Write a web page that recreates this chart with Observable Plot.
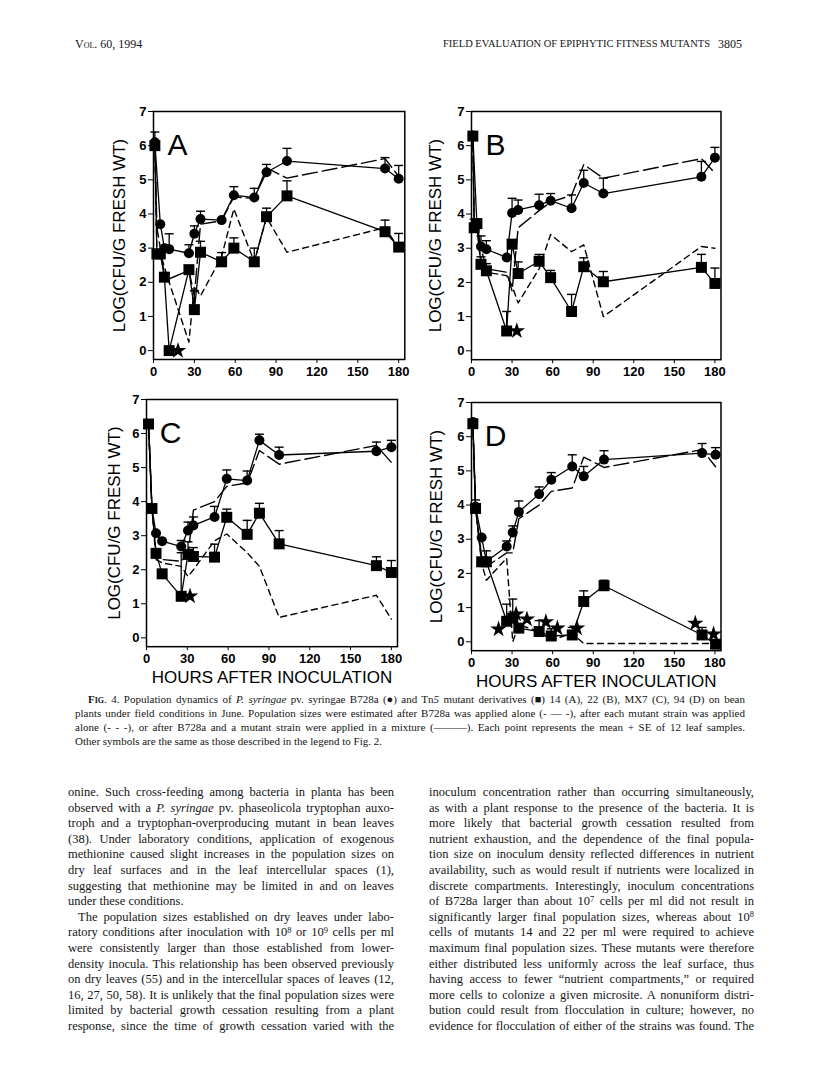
<!DOCTYPE html>
<html><head><meta charset="utf-8">
<script src="https://cdn.jsdelivr.net/npm/d3@7"></script>
<script src="https://cdn.jsdelivr.net/npm/@observablehq/plot@0.6"></script>
<style>
html,body{margin:0;padding:0;background:#fff;}
#page{position:relative;width:816px;height:1090px;overflow:hidden;background:#fff;color:#151515;}
.panel{position:absolute;}
.txt{position:absolute;font-family:"Liberation Serif","Times New Roman",serif;white-space:nowrap;}
.ln{display:inline-block;white-space:nowrap;}
sup{font-size:68%;vertical-align:baseline;position:relative;top:-0.42em;line-height:0;}
</style></head>
<body><div id="page"></div>
<script>
// ---------- DATA ----------
const hourTicks = [0, 30, 60, 90, 120, 150, 180];
const logTicks = [0, 1, 2, 3, 4, 5, 6, 7];

// Panel A (mutant 14)
const hoursA = [1, 2.5, 5, 8, 11.5, 26, 30, 34.5, 50, 59, 74, 83, 98, 170, 180];
const wtMixA = [6.1, null, 3.7, 3.0, 2.97, 2.85, 3.42, 3.85, 3.82, 4.55, 4.48, 5.22, 5.55, 5.33, 5.03];
const wtMixErrA = [6.4, null, null, null, 3.42, 3.1, 3.65, 4.08, null, 4.8, 4.75, 5.45, 5.92, 5.65, 5.42];
const mutMixA = [6.0, 2.83, 2.83, 2.15, 0.0, 2.37, 1.2, 2.88, 2.6, 3.0, 2.6, 3.92, 4.53, 3.48, 3.03];
const mutMixErrA = [null, null, null, null, null, null, 1.75, 3.2, 2.87, 3.3, 3.0, 4.17, 4.97, 3.82, 3.43];
const wtAloneA = [6.1, 3.6, 3.0, 2.2, 2.1, 2.35, 1.6, 3.7, 3.8, 4.5, 4.45, 5.35, 5.05, 5.62, 5.1];
const mutAloneA = [6.0, 2.9, 2.85, 2.45, 2.0, 0.25, 1.9, 1.6, 2.75, 4.15, 2.6, 3.9, 2.88, 3.6, 3.0];
const starHoursA = [18];
const starValsA = [0.0];

// Panel B (mutant 22)
const hoursB = [1, 2, 4, 7, 11, 26, 30, 34.5, 50, 58.5, 74, 83, 97.5, 170, 180];
const wtMixB = [6.3, null, 3.7, 3.05, 2.97, 2.73, 4.03, 4.12, 4.26, 4.39, 4.17, 4.91, 4.6, 5.09, 5.65];
const wtMixErrB = [null, null, null, 3.36, 3.22, null, 4.46, 4.41, 4.58, 4.6, 4.56, 5.28, 5.05, 5.54, 5.95];
const mutMixB = [6.28, 3.6, 3.72, 2.53, 2.34, 0.58, 3.12, 2.26, 2.62, 2.14, 1.15, 2.46, 2.02, 2.44, 1.97];
const mutMixErrB = [null, 3.85, 3.85, 2.75, 2.55, 1.15, null, 2.6, 2.82, 2.35, 1.65, 2.72, 2.32, 2.82, 2.42];
const wtAloneB = [6.3, 3.7, 3.5, 3.0, 2.4, 2.3, 1.75, 3.6, 4.1, 4.35, 4.55, 5.45, 5.05, 5.62, 5.2];
const mutAloneB = [6.3, 3.6, 3.6, 2.5, 2.3, 2.2, 1.9, 1.4, 2.4, 3.4, 2.9, 3.1, 1.0, 3.05, 3.0];
const starHoursB = [33.5];
const starValsB = [0.58];

// Panel C (mutant MX7)
const hoursC = [1.5, 4, 7, 11.5, 25.5, 30.5, 34.5, 50, 59, 74, 83, 97.5, 169, 180];
const wtMixC = [6.28, 3.8, 3.07, 2.84, 2.68, 3.15, 3.3, 3.55, 4.67, 4.62, 5.8, 5.37, 5.48, 5.6];
const wtMixErrC = [null, null, null, null, 2.86, 3.4, 3.55, 3.86, 4.93, 4.9, 5.98, 5.6, 5.75, 5.8];
const mutMixC = [6.28, 3.8, 2.48, 1.88, 1.22, 2.45, 2.39, 2.37, 3.54, 3.04, 3.66, 2.76, 2.12, 1.92];
const mutMixErrC = [null, null, 2.62, null, 2.5, 2.82, 2.65, 2.75, 3.78, 3.45, 3.95, 3.15, 2.38, 2.27];
const wtAloneC = [6.3, 3.8, 2.5, 2.3, 2.25, 2.45, 3.75, 4.0, 4.45, 4.55, 5.5, 5.1, 5.65, 5.15];
const mutAloneC = [6.3, 3.8, 2.3, 2.2, 2.1, 1.8, 2.0, 2.85, 3.05, 2.5, 2.1, 0.6, 1.25, 0.55];
const starHoursC = [32];
const starValsC = [1.22];

// Panel D (mutant 94)
const hoursD = [1, 3, 7.5, 11, 26, 30.5, 35, 50, 59, 74.5, 83, 98, 170.5, 180.5];
const wtMixD = [6.43, 3.95, 3.05, 2.35, 2.79, 3.2, 3.8, 4.32, 4.74, 5.13, 4.84, 5.33, 5.52, 5.47];
const wtMixErrD = [null, null, null, null, 2.95, 3.39, 4.12, 4.53, 4.95, 5.47, 5.13, 5.59, 5.8, 5.68];
const mutMixD = [6.38, 3.9, 2.34, 2.34, 0.6, 0.69, 0.4, 0.3, 0.17, 0.2, 1.18, 1.64, 0.2, -0.07];
const mutMixErrD = [null, 4.15, null, 2.66, 1.1, 1.25, null, 0.62, 0.38, 0.42, 1.49, 1.8, 0.42, null];
const wtAloneD = [6.4, 3.9, 2.5, 2.2, 2.6, 2.6, 3.6, 4.0, 4.4, 4.5, 5.4, 5.1, 5.62, 5.12];
const mutAloneD = [6.4, 3.9, 2.3, 1.8, 2.45, 0.0, 0.5, 0.3, 0.05, 0.25, -0.05, -0.05, -0.05, -0.05];
const starHoursD = [20, 33, 41, 55, 63.5, 78, 165.5, 179];
const starValsD = [0.37, 0.81, 0.66, 0.58, 0.4, 0.4, 0.54, 0.22];

const yLabel = "LOG(CFU/G FRESH WT)";
const xLabel = "HOURS AFTER INOCULATION";

// ---------- PAGE TEXT ----------
const headerLeft = "Vol. 60, 1994";
const headerRight = "FIELD EVALUATION OF EPIPHYTIC FITNESS MUTANTS";
const pageNumber = "3805";
const captionLines = [
  "<b>F</b><span style='font-variant:small-caps'><b>ig</b></span>. 4. Population dynamics of <i>P. syringae</i> pv. syringae B728a (●) and Tn<i>5</i> mutant derivatives (■) 14 (A), 22 (B), MX7 (C), 94 (D) on bean",
  "plants under field conditions in June. Population sizes were estimated after B728a was applied alone (- — -), after each mutant strain was applied",
  "alone (- - -), or after B728a and a mutant strain were applied in a mixture (———). Each point represents the mean + SE of 12 leaf samples.",
  "Other symbols are the same as those described in the legend to Fig. 2."
];
const leftColumn = [
  "onine. Such cross-feeding among bacteria in planta has been",
  "observed with a <i>P. syringae</i> pv. phaseolicola tryptophan auxo-",
  "troph and a tryptophan-overproducing mutant in bean leaves",
  "(38). Under laboratory conditions, application of exogenous",
  "methionine caused slight increases in the population sizes on",
  "dry leaf surfaces and in the leaf intercellular spaces (1),",
  "suggesting that methionine may be limited in and on leaves",
  "under these conditions.",
  "The population sizes established on dry leaves under labo-",
  "ratory conditions after inoculation with 10<sup>8</sup> or 10<sup>9</sup> cells per ml",
  "were consistently larger than those established from lower-",
  "density inocula. This relationship has been observed previously",
  "on dry leaves (55) and in the intercellular spaces of leaves (12,",
  "16, 27, 50, 58). It is unlikely that the final population sizes were",
  "limited by bacterial growth cessation resulting from a plant",
  "response, since the time of growth cessation varied with the"
];
const rightColumn = [
  "inoculum concentration rather than occurring simultaneously,",
  "as with a plant response to the presence of the bacteria. It is",
  "more likely that bacterial growth cessation resulted from",
  "nutrient exhaustion, and the dependence of the final popula-",
  "tion size on inoculum density reflected differences in nutrient",
  "availability, such as would result if nutrients were localized in",
  "discrete compartments. Interestingly, inoculum concentrations",
  "of B728a larger than about 10<sup>7</sup> cells per ml did not result in",
  "significantly larger final population sizes, whereas about 10<sup>8</sup>",
  "cells of mutants 14 and 22 per ml were required to achieve",
  "maximum final population sizes. These mutants were therefore",
  "either distributed less uniformly across the leaf surface, thus",
  "having access to fewer \u201cnutrient compartments,\u201d or required",
  "more cells to colonize a given microsite. A nonuniform distri-",
  "bution could result from flocculation in culture; however, no",
  "evidence for flocculation of either of the strains was found. The"
];

// ---------- BUILD ----------
const page = document.getElementById("page");
const ML = 52, MR = 8, MT = 8, MB = 48;

function rows(h, v) { return h.map((t, i) => ({t, v: v[i]})).filter(d => d.v != null); }
function errRows(h, v, top) { return h.map((t, i) => ({t, v: v[i], top: top[i]})).filter(d => d.v != null && d.top != null); }

const capSymbol = {draw(context, size) { const r = Math.sqrt(size / Math.PI); context.moveTo(-r, 0); context.lineTo(r, 0); }};

function makePanel(p) {
  const wtMix = rows(p.hours, p.wtMix), mutMix = rows(p.hours, p.mutMix);
  const wtAlone = rows(p.hours, p.wtAlone), mutAlone = rows(p.hours, p.mutAlone);
  const wtErr = errRows(p.hours, p.wtMix, p.wtErr), mutErr = errRows(p.hours, p.mutMix, p.mutErr);
  const errs = wtErr.concat(mutErr);
  const stars = rows(p.starHours, p.starVals);
  const marks = [
    Plot.line(mutAlone, {x: "t", y: "v", stroke: "black", strokeWidth: 1.4, strokeDasharray: "6,4.5"}),
    Plot.line(wtAlone, {x: "t", y: "v", stroke: "black", strokeWidth: 1.4, strokeDasharray: "15,5"}),
    Plot.line(wtMix, {x: "t", y: "v", stroke: "black", strokeWidth: 1.3}),
    Plot.line(mutMix, {x: "t", y: "v", stroke: "black", strokeWidth: 1.3}),
    Plot.ruleX(errs, {x: "t", y1: "v", y2: "top", stroke: "black", strokeWidth: 1.3}),
    Plot.dot(errs, {x: "t", y: "top", symbol: capSymbol, r: 4.5, stroke: "black", strokeWidth: 1.4, fill: "none"}),
    Plot.dot(wtMix, {x: "t", y: "v", r: 5, fill: "black", stroke: "none"}),
    Plot.dot(mutMix, {x: "t", y: "v", symbol: "square", r: 6.2, fill: "black", stroke: "none"}),
    Plot.dot(stars, {x: "t", y: "v", symbol: "star", r: 5.2, fill: "black", stroke: "none"}),
    Plot.frame({stroke: "black", strokeWidth: 1.5}),
    Plot.text([p.letter], {text: d => d, frameAnchor: "top-left", dx: 24, dy: 22, fontSize: 30, fontWeight: "normal", textAnchor: "middle", fill: "black"}),
    Plot.text([yLabel], {text: d => d, frameAnchor: "left", rotate: -90, dx: p.yLabelDx, fontSize: 17, fontWeight: "normal", textAnchor: "middle", fill: "black"})
  ];
  if (p.showX) marks.push(Plot.text([xLabel], {text: d => d, frameAnchor: "bottom", dy: 36, fontSize: 17, fontWeight: "normal", textAnchor: "middle", fill: "black"}));
  const svg = Plot.plot({
    width: p.fw + ML + MR, height: p.fh + MT + MB,
    marginLeft: ML, marginRight: MR, marginTop: MT, marginBottom: MB,
    x: {domain: [0, 184.5], ticks: hourTicks, tickSize: 4, tickPadding: 3, label: null, tickFormat: d => String(d)},
    y: {domain: [-0.26, 7], ticks: logTicks, tickSize: 5, tickPadding: 2, label: null, tickFormat: d => String(d)},
    style: {fontFamily: "'Liberation Sans', Arial, sans-serif", fontSize: "13px", fontWeight: "bold", color: "black", background: "transparent", overflow: "visible"},
    marks
  });
  svg.classList.add("panel");
  svg.style.left = (p.left - ML) + "px";
  svg.style.top = (p.top - MT) + "px";
  page.appendChild(svg);
}

const panels = [
  {letter: "A", hours: hoursA, wtMix: wtMixA, wtErr: wtMixErrA, mutMix: mutMixA, mutErr: mutMixErrA, wtAlone: wtAloneA, mutAlone: mutAloneA, starHours: starHoursA, starVals: starValsA, left: 152.7, top: 111.2, fw: 251.3, fh: 248, yLabelDx: -34, showX: false},
  {letter: "B", hours: hoursB, wtMix: wtMixB, wtErr: wtMixErrB, mutMix: mutMixB, mutErr: mutMixErrB, wtAlone: wtAloneB, mutAlone: mutAloneB, starHours: starHoursB, starVals: starValsB, left: 470.7, top: 110.7, fw: 249.5, fh: 248.2, yLabelDx: -35.5, showX: false},
  {letter: "C", hours: hoursC, wtMix: wtMixC, wtErr: wtMixErrC, mutMix: mutMixC, mutErr: mutMixErrC, wtAlone: wtAloneC, mutAlone: mutAloneC, starHours: starHoursC, starVals: starValsC, left: 145.7, top: 399, fw: 251, fh: 247.2, yLabelDx: -32, showX: true},
  {letter: "D", hours: hoursD, wtMix: wtMixD, wtErr: wtMixErrD, mutMix: mutMixD, mutErr: mutMixErrD, wtAlone: wtAloneD, mutAlone: mutAloneD, starHours: starHoursD, starVals: starValsD, left: 470.7, top: 401.7, fw: 249.5, fh: 248.2, yLabelDx: -35, showX: true}
];
panels.forEach(makePanel);

// page text
function addText(html, left, top, size, extra) {
  const d = document.createElement("div");
  d.className = "txt";
  d.style.left = left + "px"; d.style.top = top + "px"; d.style.fontSize = size + "px";
  d.style.lineHeight = "1";
  if (extra) Object.assign(d.style, extra);
  d.innerHTML = html;
  page.appendChild(d);
  return d;
}
addText(headerLeft, 75, 38, 12, {fontVariant: "small-caps"});
addText(headerRight, 443, 39, 10.5, {});
addText(pageNumber, 718, 38, 12, {});

function justifiedLine(html, left, top, width, size, justify) {
  const d = addText("<span class='ln'>" + html + "</span>", left, top, size, {lineHeight: "1"});
  const span = d.firstChild;
  if (justify) {
    const w = span.getBoundingClientRect().width;
    const spaces = (span.textContent.match(/ /g) || []).length;
    if (spaces > 0) span.style.wordSpacing = ((width - w) / spaces) + "px";
  }
  return d;
}
captionLines.forEach((l, i) => {
  const left = i === 0 ? 88 : 75;
  justifiedLine(l, left, 694 + i * 14, 745 - left, 11, i < captionLines.length - 1);
});
const bodyTop = 786, bodyStep = 15.6;
leftColumn.forEach((l, i) => {
  const indent = i === 8 ? 10 : 0;
  const last = (i === 7);
  justifiedLine(l, 68 + indent, bodyTop + i * bodyStep, 326 - indent, 12.5, !last);
});
rightColumn.forEach((l, i) => {
  justifiedLine(l, 429, bodyTop + i * bodyStep, 325, 12.5, true);
});
</script>
</body></html>
